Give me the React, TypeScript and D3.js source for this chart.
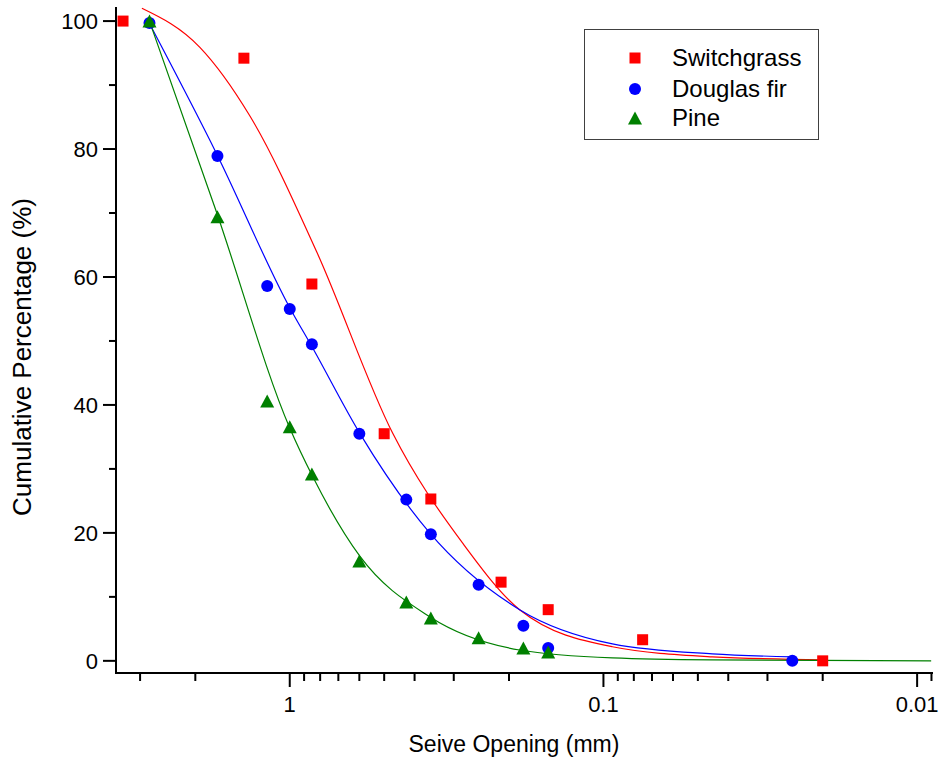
import React from 'react';
import * as d3 from 'd3';

// measured points: [sieve opening mm, cumulative %]
const switchgrass: [number, number][] = [
  [3.4, 100], [1.4, 94.2], [0.85, 58.9], [0.5, 35.5], [0.355, 25.3],
  [0.212, 12.3], [0.15, 8.0], [0.075, 3.3], [0.02, 0],
];
const douglasFir: [number, number][] = [
  [2.8, 99.7], [1.7, 78.9], [1.18, 58.6], [1.0, 55.0], [0.85, 49.5], [0.6, 35.5],
  [0.425, 25.2], [0.355, 19.8], [0.25, 11.9], [0.18, 5.5], [0.15, 2.0], [0.025, 0],
];
const pine: [number, number][] = [
  [2.8, 100], [1.7, 69.4], [1.18, 40.6], [1.0, 36.6], [0.85, 29.2], [0.6, 15.6],
  [0.425, 9.2], [0.355, 6.7], [0.25, 3.6], [0.18, 2.0], [0.15, 1.4],
];

// fitted curves (sparse, smoothed by the spline)
const switchgrassFit: [number, number][] = [
  [2.96, 102.0], [1.934, 95.9], [1.341, 85.2], [0.82, 63.9], [0.47, 35.6],
  [0.281, 18.4], [0.185, 8.0], [0.0936, 2.2], [0.045, 0.63], [0.0199, 0.16],
];
const douglasFirFit: [number, number][] = [
  [2.792, 99.5], [1.708, 79.2], [1.0, 55.2], [0.845, 48.9], [0.5986, 35.6], [0.358, 20.0],
  [0.185, 8.0], [0.0936, 2.66], [0.045, 1.09], [0.025, 0.63],
];
const pineFit: [number, number][] = [
  [2.792, 99.8], [1.708, 70.0], [1.0, 36.4], [0.845, 28.8], [0.5986, 16.4], [0.358, 6.9],
  [0.185, 1.7], [0.0936, 0.47], [0.045, 0.16], [0.00902, 0.0],
];

const yMajor = [0, 20, 40, 60, 80, 100];
const yMinor = [10, 30, 50, 70, 90];
const xMajor = [1, 0.1, 0.01];
const xMajorLabels = ['1', '0.1', '0.01'];
const xMinor = [3, 2, 0.9, 0.8, 0.7, 0.6, 0.5, 0.4, 0.3, 0.2,
  0.09, 0.08, 0.07, 0.06, 0.05, 0.04, 0.03, 0.02, 0.009];

const legendNames = ['Switchgrass', 'Douglas fir', 'Pine'];

const W = 942;
const H = 763;
const left = 116, right = 933, top = 7, bottom = 673;
const font = '"Liberation Sans", Arial, sans-serif';

const RED = '#ff0000';
const BLUE = '#0000ff';
const GREEN = '#008000';

const Square = ({ cx, cy, c }: { cx: number; cy: number; c: string }) => (
  <rect x={cx - 5.5} y={cy - 5.5} width={11} height={11} fill={c} />
);
const Circle = ({ cx, cy, c }: { cx: number; cy: number; c: string }) => (
  <circle cx={cx} cy={cy} r={6} fill={c} />
);
const Tri = ({ cx, cy, c }: { cx: number; cy: number; c: string }) => (
  <path d={`M${cx},${cy - 6.5}L${cx + 7},${cy + 6.5}L${cx - 7},${cy + 6.5}Z`} fill={c} />
);

export default function App() {
  const x = d3.scaleLog().domain([3.58, 0.0089]).range([left, right]);
  const y = d3.scaleLinear().domain([-1.9, 102.2]).range([bottom, top]);

  const line = d3.line<[number, number]>()
    .x(d => x(d[0]))
    .y(d => y(d[1]))
    .curve(d3.curveMonotoneX);

  return (
    <div style={{ position: 'absolute', left: 0, top: 0 }}>
      <svg width={W} height={H} style={{ display: 'block', background: '#fff' }} fontFamily={font}>
        <defs>
          <clipPath id="plot">
            <rect x={left} y={top} width={right - left} height={bottom - top} />
          </clipPath>
        </defs>

        {/* fit curves */}
        <g clipPath="url(#plot)" fill="none" strokeWidth={1.2}>
          <path d={line(switchgrassFit) || ''} stroke={RED} />
          <path d={line(douglasFirFit) || ''} stroke={BLUE} />
          <path d={line(pineFit) || ''} stroke={GREEN} />
        </g>

        {/* points */}
        <g>
          {switchgrass.map((d, i) => <Square key={'s' + i} cx={x(d[0])} cy={y(d[1])} c={RED} />)}
          {douglasFir.map((d, i) => <Circle key={'d' + i} cx={x(d[0])} cy={y(d[1])} c={BLUE} />)}
          {pine.map((d, i) => <Tri key={'p' + i} cx={x(d[0])} cy={y(d[1])} c={GREEN} />)}
        </g>

        {/* axes */}
        <g stroke="#000" strokeWidth={2}>
          <line x1={left} x2={left} y1={top} y2={bottom + 1} />
          <line x1={left - 1} x2={right} y1={bottom} y2={bottom} />
          {yMajor.map(v => <line key={'ym' + v} x1={left - 13} x2={left} y1={y(v)} y2={y(v)} />)}
          {yMinor.map(v => <line key={'yn' + v} x1={left - 7} x2={left} y1={y(v)} y2={y(v)} />)}
          {xMajor.map(v => <line key={'xm' + v} x1={x(v)} x2={x(v)} y1={bottom} y2={bottom + 14} />)}
          {xMinor.map(v => <line key={'xn' + v} x1={x(v)} x2={x(v)} y1={bottom} y2={bottom + 8} />)}
        </g>

        <g fontSize={22} fill="#000">
          {yMajor.map(v => (
            <text key={'yl' + v} x={left - 18} y={y(v)} dy="0.35em" textAnchor="end">{v}</text>
          ))}
          {xMajor.map((v, i) => (
            <text key={'xl' + v} x={x(v)} y={712} textAnchor="middle">{xMajorLabels[i]}</text>
          ))}
        </g>

        <text x={514} y={752} fontSize={23} textAnchor="middle">Seive Opening (mm)</text>
        <text transform="translate(31,357) rotate(-90)" fontSize={26} textAnchor="middle">
          Cumulative Percentage (%)
        </text>

        {/* legend */}
        <g>
          <rect x={584.5} y={29.5} width={234} height={110} fill="#fff" stroke="#404040" strokeWidth={1} />
          <Square cx={635} cy={58} c={RED} />
          <Circle cx={635} cy={89} c={BLUE} />
          <Tri cx={635} cy={118} c={GREEN} />
          {legendNames.map((n, i) => (
            <text key={n} x={672} y={[58, 89, 118][i]} dy="0.35em" fontSize={24}>{n}</text>
          ))}
        </g>
      </svg>
    </div>
  );
}
